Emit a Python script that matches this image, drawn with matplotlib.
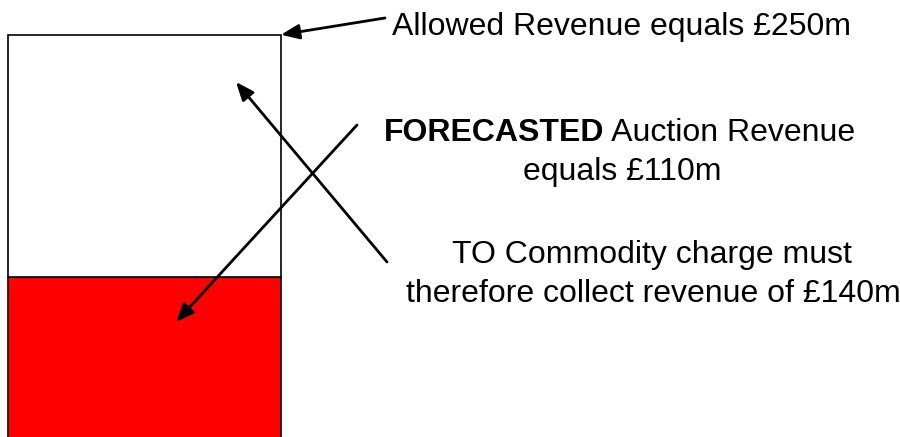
import matplotlib
matplotlib.use("Agg")
import matplotlib.pyplot as plt

# Data (£m)
allowed_revenue = 250
components = ["Auction Revenue", "TO Commodity charge"]
values = [110, 140]
colors = ["#ff0000", "#ffffff"]

plt.rcParams['font.family'] = ['Liberation Sans', 'DejaVu Sans']

W, H = 900, 437
fig = plt.figure(figsize=(W / 100, H / 100), dpi=100)
ax = fig.add_axes([0, 0, 1, 1])
ax.set_xlim(0, W)
ax.set_ylim(17.35, 270.1)
ax.axis('off')

bar_x = 144.5
bar_w = 273
bottom = 0
for v, c in zip(values, colors):
    ax.bar(bar_x, v, width=bar_w, bottom=bottom, color=c, edgecolor='black',
           linewidth=1.2, zorder=2)
    bottom += v

fs = 23
def fp(x, y):
    return (x, H - y)

arrow = dict(arrowstyle='-|>,head_length=1.1,head_width=0.45', color='black',
             lw=2, shrinkA=0, shrinkB=0)

# Allowed revenue
ax.text(*fp(622, 35), f"Allowed Revenue equals £{allowed_revenue}m", transform=None,
        fontsize=fs, ha='center', va='baseline')
ax.annotate("", xy=(bar_x + bar_w / 2, allowed_revenue), xycoords='data',
            xytext=fp(385, 18), textcoords='figure pixels', arrowprops=arrow, zorder=5)

# Forecasted auction revenue
ax.text(*fp(604, 141), "FORECASTED", transform=None, fontsize=fs, fontweight='bold',
        ha='right', va='baseline')
ax.text(*fp(604, 141), " Auction Revenue", transform=None, fontsize=fs,
        ha='left', va='baseline')
ax.text(*fp(622, 180), f"equals £{values[0]}m", transform=None, fontsize=fs,
        ha='center', va='baseline')
ax.annotate("", xy=fp(176, 322), xycoords='figure pixels',
            xytext=fp(357, 125), textcoords='figure pixels', arrowprops=arrow, zorder=5)

# TO commodity charge
ax.text(*fp(652, 263), "TO Commodity charge must", transform=None, fontsize=fs,
        ha='center', va='baseline')
ax.text(*fp(653, 302), f"therefore collect revenue of £{values[1]}m", transform=None,
        fontsize=fs, ha='center', va='baseline')
ax.annotate("", xy=fp(236, 82), xycoords='figure pixels',
            xytext=fp(387, 262), textcoords='figure pixels', arrowprops=arrow, zorder=5)

fig.savefig("out.png", dpi=100)
